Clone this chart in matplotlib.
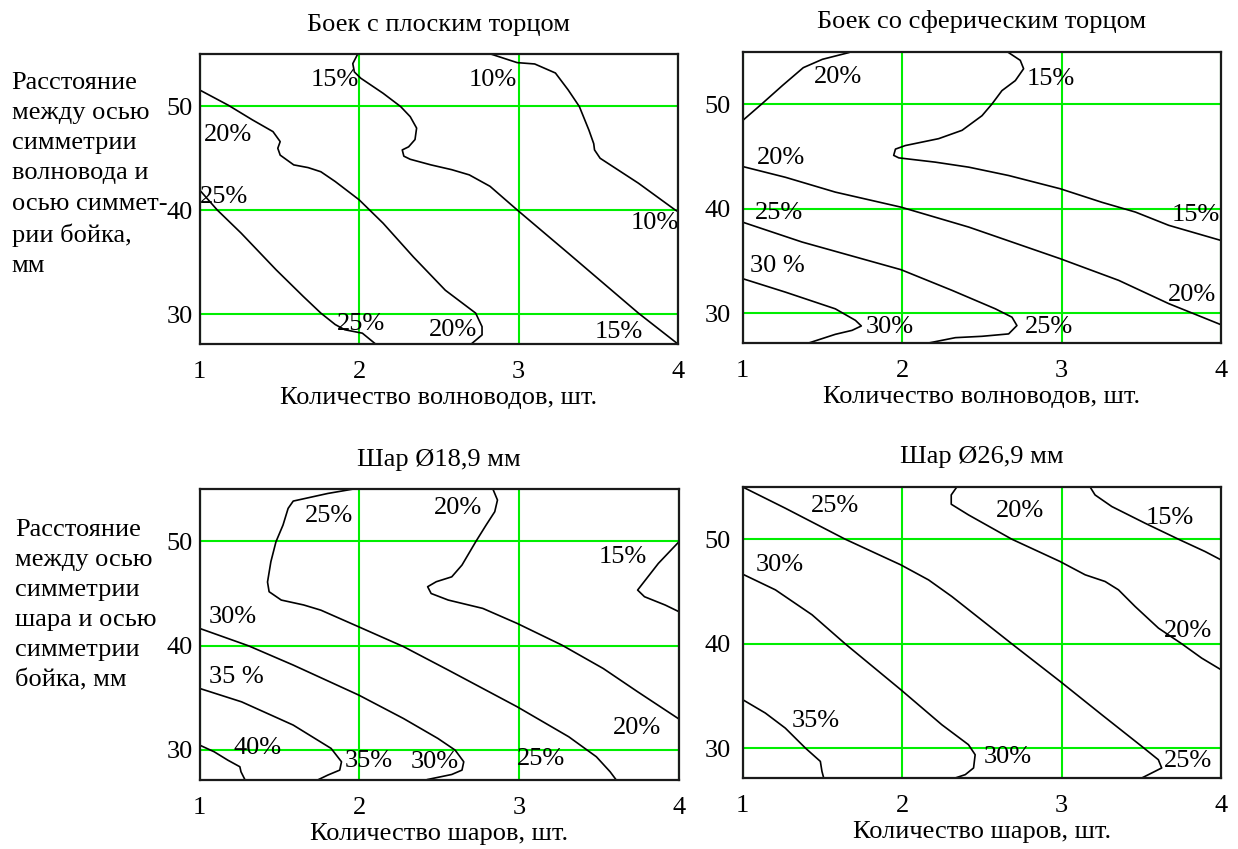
import matplotlib
matplotlib.use("Agg")
import matplotlib.pyplot as plt

plt.rcParams['font.family'] = ['Liberation Serif', 'DejaVu Serif']
FS = 19

W, H = 1238, 849

x_ticks = [1, 2, 3, 4]
y_ticks = [30, 40, 50]

titles = ["Боек с плоским торцом", "Боек со сферическим торцом",
          "Шар Ø18,9 мм", "Шар Ø26,9 мм"]
xlabels = ["Количество волноводов, шт.", "Количество волноводов, шт.",
           "Количество шаров, шт.", "Количество шаров, шт."]
ylabel_top = "Расстояние\nмежду осью\nсимметрии\nволновода и\nосью симмет-\nрии бойка,\nмм"
ylabel_bottom = "Расстояние\nмежду осью\nсимметрии\nшара и осью\nсимметрии\nбойка, мм"

# ---- Panel 1: flat end ----
p1_c10_x = [2.83, 2.99, 3.10, 3.23, 3.31, 3.38, 3.44, 3.47, 3.475, 3.51, 3.64, 3.75, 3.98, 4.0]
p1_c10_y = [55.0, 54.2, 54.07, 53.2, 51.57, 49.97, 47.7, 46.4, 45.8, 45.0, 43.7, 42.6, 40.03, 39.85]
p1_c15_x = [1.99, 1.96, 1.97, 2.01, 2.15, 2.26, 2.32, 2.36, 2.35, 2.31, 2.27, 2.28, 2.32, 2.45, 2.58, 2.69, 2.82, 2.99, 3.31, 3.75, 4.0]
p1_c15_y = [55.0, 54.1, 53.3, 52.7, 51.25, 49.97, 49.0, 47.9, 46.8, 46.1, 45.8, 45.2, 44.9, 44.36, 43.9, 43.4, 42.3, 40.03, 35.87, 30.1, 27.1]
p1_c20_x = [1.0, 1.18, 1.33, 1.46, 1.505, 1.49, 1.505, 1.59, 1.68, 1.76, 1.85, 2.0, 2.15, 2.34, 2.54, 2.73, 2.77, 2.77, 2.70]
p1_c20_y = [51.57, 50.1, 48.7, 47.56, 46.6, 45.96, 45.3, 44.36, 44.1, 43.7, 42.76, 41.0, 38.75, 35.5, 32.3, 30.1, 28.8, 28.0, 27.1]
p1_c25_x = [1.0, 1.11, 1.26, 1.48, 1.65, 1.76, 1.85, 1.91, 2.02, 2.105]
p1_c25_y = [41.95, 40.03, 37.8, 34.26, 31.7, 30.1, 29.0, 28.5, 28.17, 27.1]
p1_lab_text = ["15%", "10%", "20%", "25%", "10%", "25%", "20%", "15%"]
p1_lab_x = [1.85, 2.84, 1.18, 1.155, 3.85, 2.01, 2.59, 3.63]
p1_lab_y = [52.5, 52.5, 47.24, 41.3, 38.8, 29.1, 28.5, 28.24]

# ---- Panel 2: spherical end ----
p2_c20a_x = [1.0, 1.12, 1.25, 1.38, 1.50, 1.665]
p2_c20a_y = [48.44, 50.03, 51.8, 53.5, 54.3, 54.94]
p2_c15_x = [2.668, 2.741, 2.762, 2.71, 2.626, 2.564, 2.501, 2.376, 2.229, 2.02, 1.958, 1.947, 1.979, 2.208, 2.418, 2.668, 2.992, 3.254, 3.463, 3.672, 4.0]
p2_c15_y = [54.94, 54.2, 53.4, 52.26, 51.3, 50.03, 48.9, 47.5, 46.7, 46.04, 45.7, 45.1, 44.86, 44.45, 43.97, 43.17, 41.9, 40.6, 39.67, 38.4, 36.95]
p2_c20b_x = [1.0, 1.268, 1.581, 1.993, 2.418, 2.992, 3.358, 3.672, 4.0]
p2_c20b_y = [44.03, 43.0, 41.58, 40.14, 38.23, 35.2, 33.13, 30.9, 28.88]
p2_c25_x = [1.0, 1.372, 1.993, 2.313, 2.585, 2.689, 2.72, 2.668, 2.501, 2.334, 2.166]
p2_c25_y = [38.7, 36.8, 34.15, 32.17, 30.4, 29.6, 28.8, 28.0, 27.77, 27.64, 27.13]
p2_c30_x = [1.0, 1.268, 1.581, 1.707, 1.744, 1.686, 1.581, 1.414]
p2_c30_y = [33.29, 32.0, 30.4, 29.3, 28.76, 28.34, 27.96, 27.13]
p2_lab_text = ["20%", "15%", "20%", "15%", "25%", "30 %", "20%", "30%", "25%"]
p2_lab_x = [1.60, 2.93, 1.24, 3.84, 1.23, 1.22, 3.82, 1.92, 2.92]
p2_lab_y = [52.65, 52.4, 44.86, 39.35, 39.57, 34.47, 31.7, 28.7, 28.7]

# ---- Panel 3: ball 18.9 mm ----
p3_c25_x = [1.953, 1.802, 1.586, 1.554, 1.522, 1.478, 1.446, 1.425, 1.435, 1.511, 1.651, 1.759, 1.996, 2.276, 2.556, 2.987, 3.31, 3.483, 3.569, 3.608]
p3_c25_y = [55.0, 54.6, 53.87, 53.17, 51.57, 49.97, 48.05, 46.1, 45.17, 44.37, 43.9, 43.4, 41.8, 39.9, 37.65, 34.13, 31.25, 29.33, 27.89, 27.09]
p3_c20_x = [2.836, 2.864, 2.847, 2.793, 2.728, 2.642, 2.578, 2.481, 2.427, 2.449, 2.556, 2.772, 2.987, 3.267, 3.526, 3.741, 4.0]
p3_c20_y = [55.0, 53.97, 52.85, 51.57, 49.97, 47.73, 46.6, 46.13, 45.65, 45.0, 44.37, 43.57, 42.13, 40.05, 37.8, 35.57, 32.95]
p3_c15_x = [4.0, 3.871, 3.741, 3.784, 3.914, 4.0]
p3_c15_y = [49.97, 47.89, 45.33, 44.69, 43.89, 43.25]
p3_c30_x = [1.0, 1.306, 1.586, 1.996, 2.276, 2.491, 2.599, 2.653, 2.642, 2.578, 2.427]
p3_c30_y = [41.65, 39.98, 38.13, 35.25, 33.0, 31.09, 29.97, 28.85, 28.05, 27.63, 27.15]
p3_c35_x = [1.0, 1.263, 1.586, 1.823, 1.888, 1.877, 1.802, 1.737]
p3_c35_y = [35.89, 34.6, 32.37, 30.13, 28.85, 28.05, 27.57, 27.09]
p3_c40_x = [1.0, 1.091, 1.177, 1.252, 1.259, 1.285]
p3_c40_y = [30.45, 29.81, 29.0, 28.37, 27.89, 27.09]
p3_lab_text = ["25%", "20%", "15%", "30%", "35 %", "20%", "40%", "35%", "30%", "25%"]
p3_lab_x = [1.81, 2.62, 3.65, 1.21, 1.23, 3.74, 1.36, 2.06, 2.47, 3.134]
p3_lab_y = [52.46, 53.17, 48.53, 42.77, 37.0, 32.1, 30.19, 28.9, 28.78, 29.1]

# ---- Panel 4: ball 26.9 mm ----
p4_c15_x = [3.179, 3.21, 3.315, 3.524, 3.733, 3.9, 4.0]
p4_c15_y = [55.0, 54.24, 53.13, 51.53, 50.0, 48.82, 48.02]
p4_c20_x = [2.343, 2.308, 2.308, 2.416, 2.688, 2.991, 3.148, 3.273, 3.357, 3.461, 3.608, 3.754, 3.879, 4.0]
p4_c20_y = [55.0, 54.24, 53.35, 52.33, 50.0, 47.86, 46.59, 45.95, 45.15, 43.56, 41.48, 39.98, 38.61, 37.5]
p4_c25_x = [1.0, 1.267, 1.643, 1.992, 2.166, 2.312, 2.688, 2.991, 3.252, 3.503, 3.607, 3.628, 3.524, 3.503]
p4_c25_y = [55.0, 52.97, 50.0, 47.54, 46.1, 44.51, 39.98, 36.38, 33.19, 30.16, 28.88, 28.09, 27.29, 27.13]
p4_c30_x = [1.0, 1.205, 1.435, 1.643, 1.992, 2.249, 2.416, 2.458, 2.448, 2.396, 2.333]
p4_c30_y = [46.65, 45.15, 42.76, 39.98, 35.58, 32.23, 30.32, 29.36, 28.09, 27.45, 27.13]
p4_c35_x = [1.0, 1.142, 1.267, 1.393, 1.487, 1.497, 1.508]
p4_c35_y = [34.63, 33.35, 31.91, 30.0, 28.72, 27.77, 27.13]
p4_lab_text = ["25%", "20%", "15%", "30%", "20%", "35%", "30%", "25%"]
p4_lab_x = [1.58, 2.74, 3.68, 1.23, 3.79, 1.46, 2.66, 3.79]
p4_lab_y = [53.22, 52.71, 52.07, 47.54, 41.23, 32.62, 29.1, 28.79]

panels = [
    dict(curves=[(p1_c10_x, p1_c10_y), (p1_c15_x, p1_c15_y), (p1_c20_x, p1_c20_y), (p1_c25_x, p1_c25_y)],
         labels=(p1_lab_text, p1_lab_x, p1_lab_y)),
    dict(curves=[(p2_c20a_x, p2_c20a_y), (p2_c15_x, p2_c15_y), (p2_c20b_x, p2_c20b_y), (p2_c25_x, p2_c25_y), (p2_c30_x, p2_c30_y)],
         labels=(p2_lab_text, p2_lab_x, p2_lab_y)),
    dict(curves=[(p3_c25_x, p3_c25_y), (p3_c20_x, p3_c20_y), (p3_c15_x, p3_c15_y), (p3_c30_x, p3_c30_y), (p3_c35_x, p3_c35_y), (p3_c40_x, p3_c40_y)],
         labels=(p3_lab_text, p3_lab_x, p3_lab_y)),
    dict(curves=[(p4_c15_x, p4_c15_y), (p4_c20_x, p4_c20_y), (p4_c25_x, p4_c25_y), (p4_c30_x, p4_c30_y), (p4_c35_x, p4_c35_y)],
         labels=(p4_lab_text, p4_lab_x, p4_lab_y)),
]

# axes boxes in pixels: left, top, right, bottom
boxes = [(199.6, 54.3, 678.3, 344.3), (742.7, 52.0, 1221.0, 343.3),
         (199.6, 489.3, 679.0, 780.0), (742.7, 487.0, 1221.0, 778.3)]
ypads = [5.0, 8.5, 5.0, 8.5]

GREEN = '#00ee00'

fig = plt.figure(figsize=(W / 100, H / 100), dpi=100)
for i, (panel, box) in enumerate(zip(panels, boxes)):
    l, t, r, b = box
    ax = fig.add_axes([l / W, 1 - b / H, (r - l) / W, (b - t) / H])
    ax.set_xlim(1, 4)
    ax.set_ylim(27.1, 55.0)
    ax.set_xticks(x_ticks)
    ax.set_yticks(y_ticks)
    ax.set_xticklabels([str(v) for v in x_ticks])
    ax.set_yticklabels([str(v) for v in y_ticks])
    ax.tick_params(axis='x', length=0, pad=12, labelsize=FS)
    ax.tick_params(axis='y', length=0, pad=ypads[i], labelsize=FS)
    ax.grid(True, color=GREEN, lw=1.5, zorder=1)
    ax.set_axisbelow(True)
    for sp in ax.spines.values():
        sp.set_linewidth(1.6)
        sp.set_color('#1a1a1a')
        sp.set_zorder(5)
    for cx, cy in panel['curves']:
        ax.plot(cx, cy, color='black', lw=1.2, zorder=3, solid_joinstyle='round')
    txt, lx, ly = panel['labels']
    for s, xx, yy in zip(txt, lx, ly):
        ax.text(xx, yy, s, fontsize=FS, ha='center', va='center', zorder=4)
    ax.annotate(titles[i], xy=(0.5, 1), xycoords='axes fraction', xytext=(0, 17.0),
                textcoords='offset points', ha='center', va='baseline', fontsize=FS)
    ax.annotate(xlabels[i], xy=(0.5, 0), xycoords='axes fraction', xytext=(0, -31.0),
                textcoords='offset points', ha='center', va='top', fontsize=FS)

fig.text(11.7 / W, 1 - 72.0 / H, ylabel_top, fontsize=FS, ha='left', va='top',
         linespacing=1.48, transform=fig.transFigure)
fig.text(15 / W, 1 - 518.5 / H, ylabel_bottom, fontsize=FS, ha='left', va='top',
         linespacing=1.48, transform=fig.transFigure)

fig.savefig('out.png', dpi=100)
